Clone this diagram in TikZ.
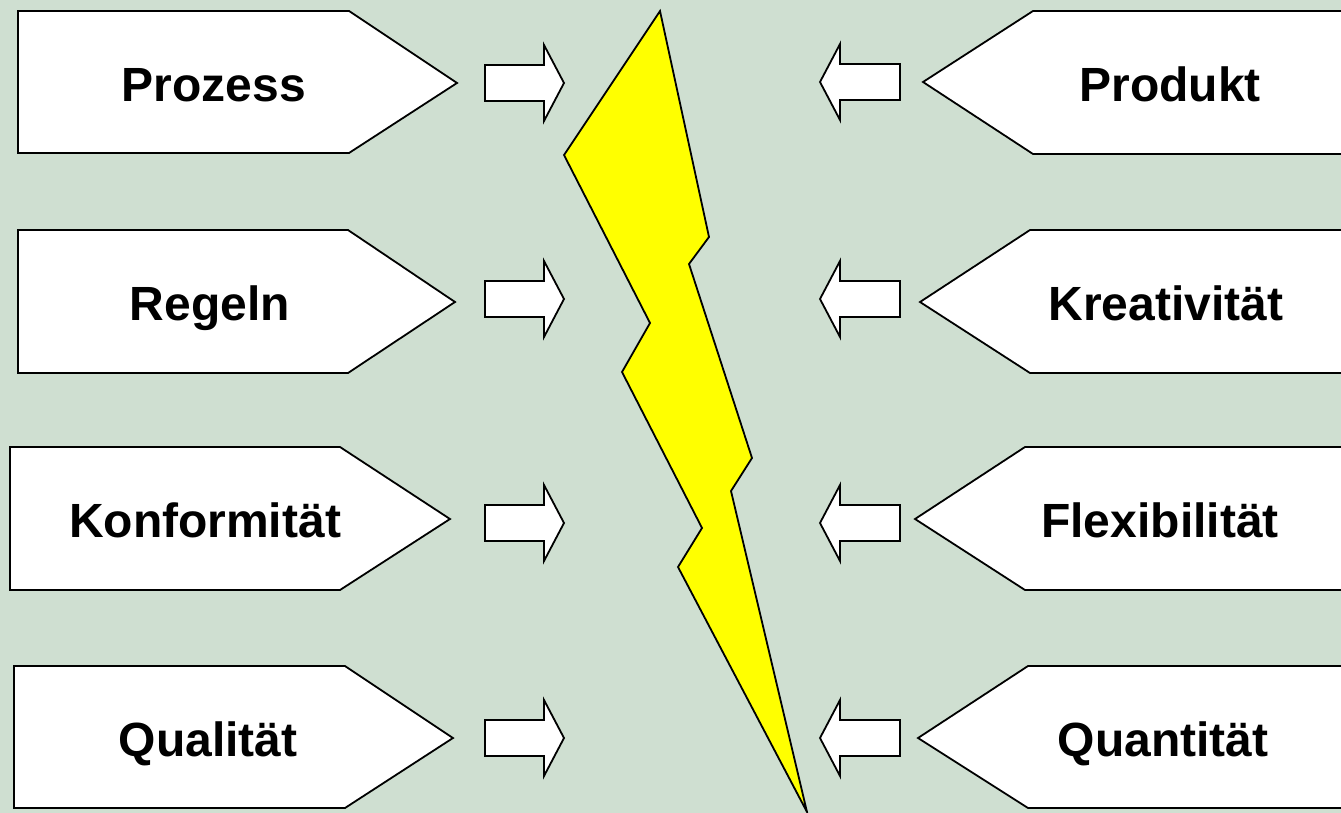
\documentclass[tikz,border=0pt]{standalone}
\usepackage{fontspec}
\setmainfont{Liberation Sans}
\definecolor{bg}{RGB}{207,223,209}
\definecolor{bolt}{RGB}{255,255,0}
\tikzset{
  pbox/.style={draw=black, fill=white, line width=1.8pt, line join=miter},
  barrow/.style={draw=black, fill=white, line width=1.8pt, line join=miter},
  boltstyle/.style={draw=black, fill=bolt, line width=1.8pt, line join=miter},
  lbl/.style={font=\fontsize{48}{52}\selectfont\bfseries, inner sep=0pt, anchor=base}
}
\begin{document}
\begin{tikzpicture}[x=1pt,y=-1pt]
\useasboundingbox (0,0) rectangle (1341,813);
\fill[bg] (0,0) rectangle (1341,813);

% left boxes
\draw[pbox] (18,11) -- (349,11) -- (457,83) -- (349,153) -- (18,153) -- cycle;
\draw[pbox] (18,230) -- (348,230) -- (455,302) -- (348,373) -- (18,373) -- cycle;
\draw[pbox] (10,447) -- (340,447) -- (450,519) -- (340,590) -- (10,590) -- cycle;
\draw[pbox] (14,666) -- (345,666) -- (453,738) -- (345,808) -- (14,808) -- cycle;

% right boxes
\draw[pbox] (1346,11) -- (1033,11) -- (923,82) -- (1033,154) -- (1346,154) -- cycle;
\draw[pbox] (1346,230) -- (1030,230) -- (920,302) -- (1030,373) -- (1346,373) -- cycle;
\draw[pbox] (1346,447) -- (1025,447) -- (915,519) -- (1025,590) -- (1346,590) -- cycle;
\draw[pbox] (1346,666) -- (1028,666) -- (918,738) -- (1028,808) -- (1346,808) -- cycle;

% labels
\node[lbl] (prozess) at (214,102) {Prozess};
\node[lbl] (regeln) at (210,320) {Regeln};
\node[lbl] (konf) at (205,537) {Konformität};
\node[lbl] (qual) at (208,756) {Qualität};
\node[lbl] (produkt) at (1170,102) {Produkt};
\node[lbl] (kreat) at (1166,320) {Kreativität};
\node[lbl] (flex) at (1160,537) {Flexibilität};
\node[lbl] (quant) at (1163,756) {Quantität};

% block arrows left (pointing right)
\foreach \y in {83,299,523,738}{
  \draw[barrow] (485,\y-18) -- (544,\y-18) -- (544,\y-38) -- (564,\y) -- (544,\y+38) -- (544,\y+18) -- (485,\y+18) -- cycle;
}
% block arrows right (pointing left)
\foreach \y in {82,299,523,738}{
  \draw[barrow] (900,\y-18) -- (840,\y-18) -- (840,\y-38) -- (820,\y) -- (840,\y+38) -- (840,\y+18) -- (900,\y+18) -- cycle;
}

% lightning bolt
\draw[boltstyle] (660,11) -- (709,237) -- (689,264) -- (752,458) -- (731,491) -- (807,812)
  -- (678,567) -- (702,528) -- (622,372) -- (650,323) -- (564,155) -- cycle;
\end{tikzpicture}
\end{document}
